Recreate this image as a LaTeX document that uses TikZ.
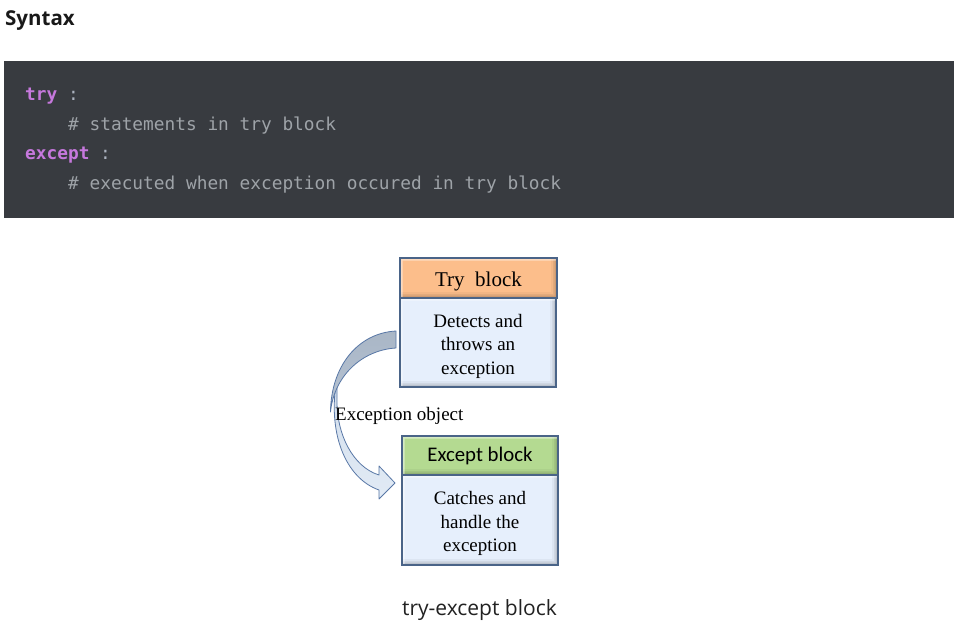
\documentclass[tikz,border=0pt]{standalone}
\usepackage{fontspec}
\setmainfont{Liberation Serif}
\newfontfamily\uifont{Open Sans}
\newfontfamily\codefont{DejaVu Sans Mono}
\newfontfamily\calfont{Carlito}
\definecolor{codebg}{HTML}{383B40}
\definecolor{kw}{HTML}{C678DD}
\definecolor{cmt}{HTML}{9EA3A8}
\definecolor{colon}{HTML}{ABB2BF}
\definecolor{edge}{HTML}{4A6488}
\definecolor{tryfill}{HTML}{FCBE8B}
\definecolor{excfill}{HTML}{B4DA91}
\definecolor{bodyfill}{HTML}{E6EFFC}
\definecolor{arrline}{HTML}{5877A6}
\definecolor{arrdark}{HTML}{A9B6C6}
\definecolor{arrlight}{HTML}{D8E4F2}
\definecolor{captxt}{HTML}{222222}
\tikzset{
  bevel/.style={path picture={
    \foreach \w/\o in {6/0.04,4/0.06,2.5/0.08,1.2/0.12}{
      \fill[black,opacity=\o] (path picture bounding box.south west) -- (path picture bounding box.south east) -- (path picture bounding box.north east) -- ([xshift=-\w pt]path picture bounding box.north east) -- ([xshift=-\w pt,yshift=\w pt]path picture bounding box.south east) -- ([yshift=\w pt]path picture bounding box.south west) -- cycle;}
    \fill[white,opacity=0.45] (path picture bounding box.north west) -- (path picture bounding box.north east) -- ([yshift=-2.5pt]path picture bounding box.north east) -- ([xshift=2.5pt,yshift=-2.5pt]path picture bounding box.north west) -- ([xshift=2.5pt]path picture bounding box.south west) -- (path picture bounding box.south west) -- cycle;
  }},
  blk/.style={draw=edge, line width=1.4pt, inner sep=0pt, bevel},
  codeline/.style={anchor=base west, inner sep=0pt, font=\codefont\fontsize{17.8}{20}\selectfont},
  boxtext/.style={align=center, inner sep=0pt, font=\fontsize{19}{23.5}\selectfont},
  arrband/.style={draw=arrline, line width=0.8pt, line join=round},
}
\begin{document}
\begin{tikzpicture}[x=1pt,y=-1pt]
\useasboundingbox (0,0) rectangle (958,623);
\fill[white] (0,0) rectangle (958,623);
% heading
\node[anchor=base west, inner sep=0pt, text=black!90, font=\uifont\bfseries\fontsize{20.5}{24}\selectfont] (syn) at (5,26) {Syntax};
% code block
\node[fill=codebg, inner sep=0pt, minimum width=950, minimum height=157] (code) at (479,139.5) {};
\node[codeline] (l1) at (25,101) {{\color{kw}\bfseries try} {\color{colon}:}};
\node[codeline, text=cmt] (l2) at (68,130.5) {\# statements in try block};
\node[codeline] (l3) at (25,160) {{\color{kw}\bfseries except} {\color{colon}:}};
\node[codeline, text=cmt] (l4) at (68,189.5) {\# executed when exception occured in try block};
% boxes
\node[blk, fill=tryfill, minimum width=157, minimum height=40] (tryh) at (478.5,278) {};
\node[blk, fill=bodyfill, minimum width=156, minimum height=89] (tryb) at (478,342.5) {};
\node[blk, fill=excfill, minimum width=156, minimum height=39] (exch) at (480,455.5) {};
\node[blk, fill=bodyfill, minimum width=156, minimum height=90] (excb) at (480,520) {};
\node[anchor=base, inner sep=0pt, font=\fontsize{21}{24}\selectfont] (tryt) at (478.5,286.7) {Try\ \ block};
\node[boxtext] (trybt) at (478,346) {Detects and\\throws an\\exception};
\node[anchor=base, inner sep=0pt, font=\calfont\fontsize{20.8}{24}\selectfont] (exct) at (480,461.7) {Except block};
\node[boxtext] (excbt) at (480,523.5) {Catches and\\handle the\\exception};
% curved arrow
\coordinate (tailtop) at (396,331);
\coordinate (tailbot) at (396,348);
\coordinate (tip) at (395,483);
\path[arrband, top color=arrlight!85!arrdark, bottom color=arrlight!75!white]
  (337,378) .. controls (327,432) and (345,478) .. (379,490) -- (379,499) -- (tip) -- (379,466) -- (379,475)
  .. controls (353,467) and (336,434) .. (337,398) -- cycle;
\path[arrband, top color=arrdark, bottom color=arrdark!70!arrlight]
  (tailtop) .. controls (358,333) and (331,366) .. (330.5,412)
  .. controls (334,376) and (362,350) .. (tailbot) -- cycle;
\node[anchor=base west, inner sep=0pt, font=\fontsize{19}{22}\selectfont] (eo) at (335,420) {Exception object};
% caption
\node[anchor=base, inner sep=0pt, text=captxt, font=\uifont\fontsize{21}{24}\selectfont] (cap) at (479.5,615) {try-except block};
\end{tikzpicture}
\end{document}
